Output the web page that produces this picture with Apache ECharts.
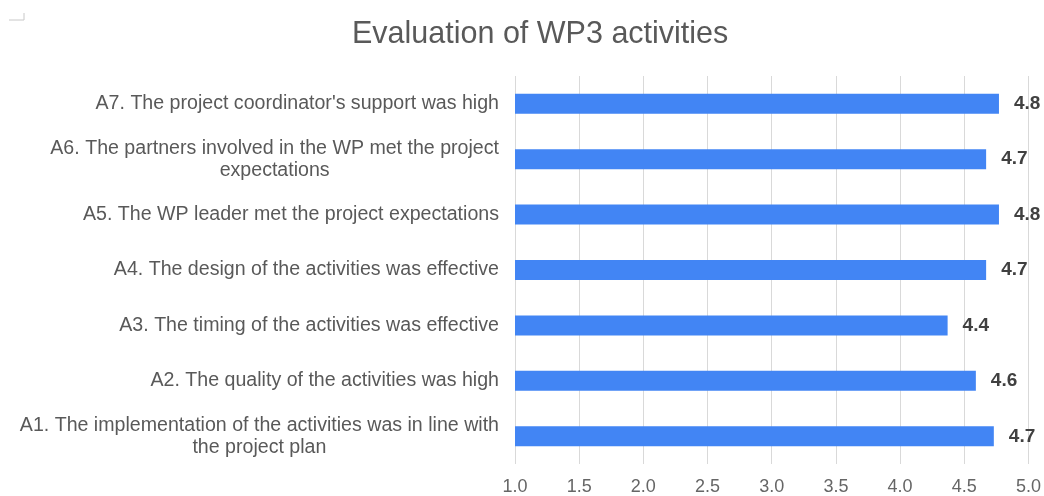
<!DOCTYPE html>
<html>
<head>
<meta charset="utf-8">
<title>Evaluation of WP3 activities</title>
<script src="https://cdn.jsdelivr.net/npm/echarts@6/dist/echarts.min.js"></script>
<style>
    html, body { margin: 0; padding: 0; background: #fff; }
    #chartBox { width: 1044px; height: 496px; }
</style>
</head>
<body>
<div id="chartBox"></div>
<script>
// categories, bottom to top
var categories = [
    'A1. The implementation of the activities was in line with\nthe project plan',
    'A2. The quality of the activities was high',
    'A3. The timing of the activities was effective',
    'A4. The design of the activities was effective',
    'A5. The WP leader met the project expectations',
    'A6. The partners involved in the WP met the project\nexpectations',
    "A7. The project coordinator's support was high"
];
var scores = [4.73, 4.59, 4.37, 4.67, 4.77, 4.67, 4.77];
var xTicks = ['1.0', '1.5', '2.0', '2.5', '3.0', '3.5', '4.0', '4.5', '5.0'];

var myChart = echarts.init(document.getElementById('chartBox'));

var option = {
    animation: false,
    textStyle: { fontFamily: 'Liberation Sans, Arial, sans-serif' },
    title: {
        text: 'Evaluation of WP3 activities',
        left: 347,
        top: 14,
        textStyle: { fontSize: 30.5, fontWeight: 'normal', color: '#595959' }
    },
    graphic: [{
        type: 'polyline',
        shape: { points: [[9, 20], [24, 20], [24, 13]] },
        style: { stroke: '#c8c8c8', lineWidth: 1, fill: null }
    }],
    grid: { left: 515, right: 15, top: 76, bottom: 31 },
    xAxis: {
        type: 'value',
        min: 1,
        max: 5,
        interval: 0.5,
        axisLine: { show: false },
        axisTick: { show: false },
        splitLine: { show: true, lineStyle: { color: '#d9d9d9' } },
        axisLabel: {
            margin: 14,
            fontSize: 18,
            color: '#666',
            formatter: function (v) {
                return xTicks[Math.round((v - 1) / 0.5)];
            }
        }
    },
    yAxis: {
        type: 'category',
        data: categories,
        axisLine: { show: false },
        axisTick: { show: false },
        axisLabel: {
            margin: 16,
            fontSize: 19.6,
            color: '#595959',
            lineHeight: 22,
            formatter: function (v) {
                return v.split('\n').map(function (s) { return '{c|' + s + '}'; }).join('\n');
            },
            rich: { c: { align: 'center', fontSize: 19.6, color: '#595959', lineHeight: 22 } }
        }
    },
    series: [{
        type: 'bar',
        data: scores,
        barWidth: 20,
        itemStyle: { color: '#4285f4' },
        label: {
            show: true,
            position: 'right',
            distance: 15,
            fontSize: 19,
            fontWeight: 'bold',
            color: '#404040',
            formatter: function (p) { return p.value.toFixed(1); }
        }
    }]
};
myChart.setOption(option);
</script>
</body>
</html>
